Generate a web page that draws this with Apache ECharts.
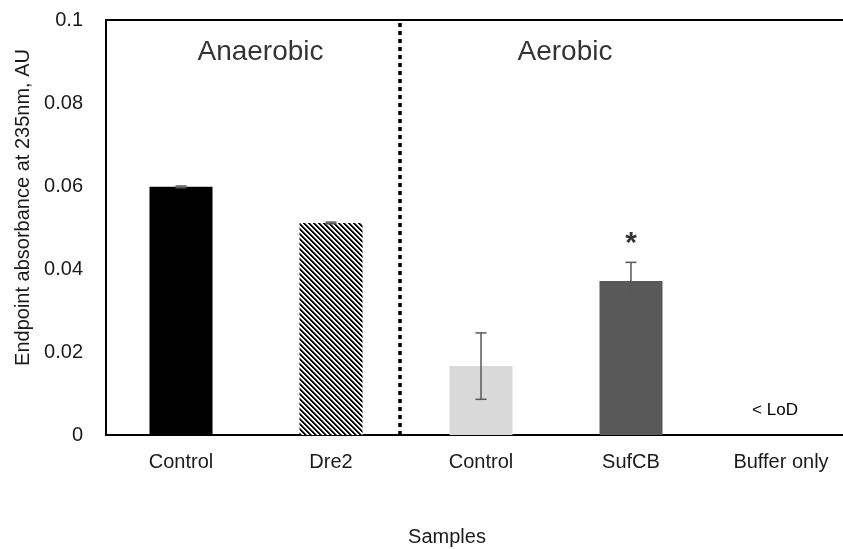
<!DOCTYPE html>
<html>
<head>
<meta charset="utf-8">
<script src="https://cdn.jsdelivr.net/npm/echarts@6/dist/echarts.min.js"></script>
<style>
html,body{margin:0;padding:0;background:#fff;}
#chart{width:843px;height:549px;}
</style>
</head>
<body>
<div id="chart"></div>
<script>
// ---- data ----
const categories = ['Control', 'Dre2', 'Control', 'SufCB', 'Buffer only'];
const means = [0.0598, 0.0511, 0.0166, 0.0371, 0];
const errors = [0.0002, 0.0002, 0.0080, 0.0045, 0];
const barColors = ['#000000', 'stripes', '#d9d9d9', '#595959', '#ffffff'];
const yTicks = [0, 0.02, 0.04, 0.06, 0.08, 0.1];
const groupLabels = ['Anaerobic', 'Aerobic'];
const groupLabelX = [1.03, 3.06];   // position on hidden 0..5 value axis
const groupLabelY = 0.0922;
const dividerX = 1.96;
const starIndex = 3;
const starY = 0.046;
const lodIndex = 4;
const lodText = '< LoD';

// stripe pattern for Dre2
function stripePattern() {
  const p = 5;
  const c = document.createElement('canvas');
  c.width = p; c.height = p;
  const ctx = c.getContext('2d');
  for (let y = 0; y < p; y++) {
    for (let x = 0; x < p; x++) {
      const m = (((x - y) % p) + p) % p;
      ctx.fillStyle = m < 2 ? '#000000' : (m === 2 ? '#7a7a7a' : '#ffffff');
      ctx.fillRect(x, y, 1, 1);
    }
  }
  return { image: c, repeat: 'repeat' };
}

const FONT = 'Liberation Sans, Arial, sans-serif';

const barData = means.map((v, i) => {
  const item = {
    value: v,
    itemStyle: { color: barColors[i] === 'stripes' ? stripePattern() : barColors[i] }
  };
  if (i === lodIndex) {
    item.label = {
      show: true, position: 'top', distance: 16, offset: [-6, 0], formatter: lodText,
      fontSize: 17, color: '#000', fontFamily: FONT
    };
  }
  return item;
});

const errData = means.map((v, i) => errors[i] > 0 ? [i, v - errors[i], v + errors[i]] : null).filter(d => d);

const chart = echarts.init(document.getElementById('chart'), null, { renderer: 'canvas' });
chart.setOption({
  animation: false,
  backgroundColor: '#ffffff',
  grid: { left: 106, top: 20, width: 750, height: 415, outerBoundsMode: 'none', containLabel: false },
  xAxis: [
    {
      type: 'category',
      data: categories,
      position: 'bottom',
      axisLine: { show: true, lineStyle: { color: '#000', width: 2 } },
      axisTick: { show: false },
      axisLabel: { color: '#1a1a1a', fontSize: 20, fontFamily: FONT, margin: 17, interval: 0 },
      name: 'Samples',
      nameLocation: 'middle',
      nameGap: 92,
      nameTextStyle: { color: '#1a1a1a', fontSize: 20, fontFamily: FONT, padding: [0, 68, 0, 0] }
    },
    {
      type: 'value',
      min: 0, max: 5,
      position: 'top',
      axisLine: { show: true, onZero: false, lineStyle: { color: '#000', width: 2 } },
      axisTick: { show: false },
      axisLabel: { show: false },
      splitLine: { show: false }
    }
  ],
  yAxis: {
    type: 'value',
    min: yTicks[0],
    max: yTicks[yTicks.length - 1],
    interval: 0.02,
    axisLine: { show: true, lineStyle: { color: '#000', width: 2 } },
    axisTick: { show: false },
    splitLine: { show: false },
    axisLabel: { color: '#1a1a1a', fontSize: 20, fontFamily: FONT, margin: 23 },
    name: 'Endpoint absorbance at 235nm, AU',
    nameLocation: 'middle',
    nameGap: 70,
    nameTextStyle: { color: '#1a1a1a', fontSize: 20, fontFamily: FONT, padding: [0, 0, 0, 40] }
  },
  series: [
    {
      type: 'bar',
      xAxisIndex: 0,
      data: barData,
      barWidth: '42%'
    },
    {
      type: 'custom',
      xAxisIndex: 0,
      encode: { x: 0, y: [1, 2] },
      data: errData,
      z: 5,
      renderItem: function (params, api) {
        const x = api.value(0);
        const lo = api.coord([x, api.value(1)]);
        const hi = api.coord([x, api.value(2)]);
        const hw = 5.5;
        const style = { stroke: '#595959', lineWidth: 1.5 };
        return {
          type: 'group',
          children: [
            { type: 'line', shape: { x1: lo[0], y1: lo[1], x2: hi[0], y2: hi[1] }, style: style },
            { type: 'line', shape: { x1: lo[0] - hw, y1: lo[1], x2: lo[0] + hw, y2: lo[1] }, style: style },
            { type: 'line', shape: { x1: hi[0] - hw, y1: hi[1], x2: hi[0] + hw, y2: hi[1] }, style: style }
          ]
        };
      }
    },
    {
      type: 'scatter',
      xAxisIndex: 0,
      symbolSize: 0,
      data: [[starIndex, starY]],
      label: { show: true, position: 'inside', formatter: '*', fontSize: 30, fontWeight: 'bold', color: '#000', fontFamily: FONT }
    },
    {
      type: 'line',
      xAxisIndex: 1,
      data: [[dividerX, 0], [dividerX, 0.1]],
      symbol: 'none',
      lineStyle: { color: '#000', width: 3.5, type: [4, 4], cap: 'butt' },
      z: 3
    },
    {
      type: 'scatter',
      xAxisIndex: 1,
      symbolSize: 0,
      data: groupLabels.map((t, i) => ({ value: [groupLabelX[i], groupLabelY], name: t })),
      label: { show: true, position: 'inside', formatter: '{b}', fontSize: 28, color: '#000', fontFamily: FONT }
    }
  ]
});
</script>
</body>
</html>
